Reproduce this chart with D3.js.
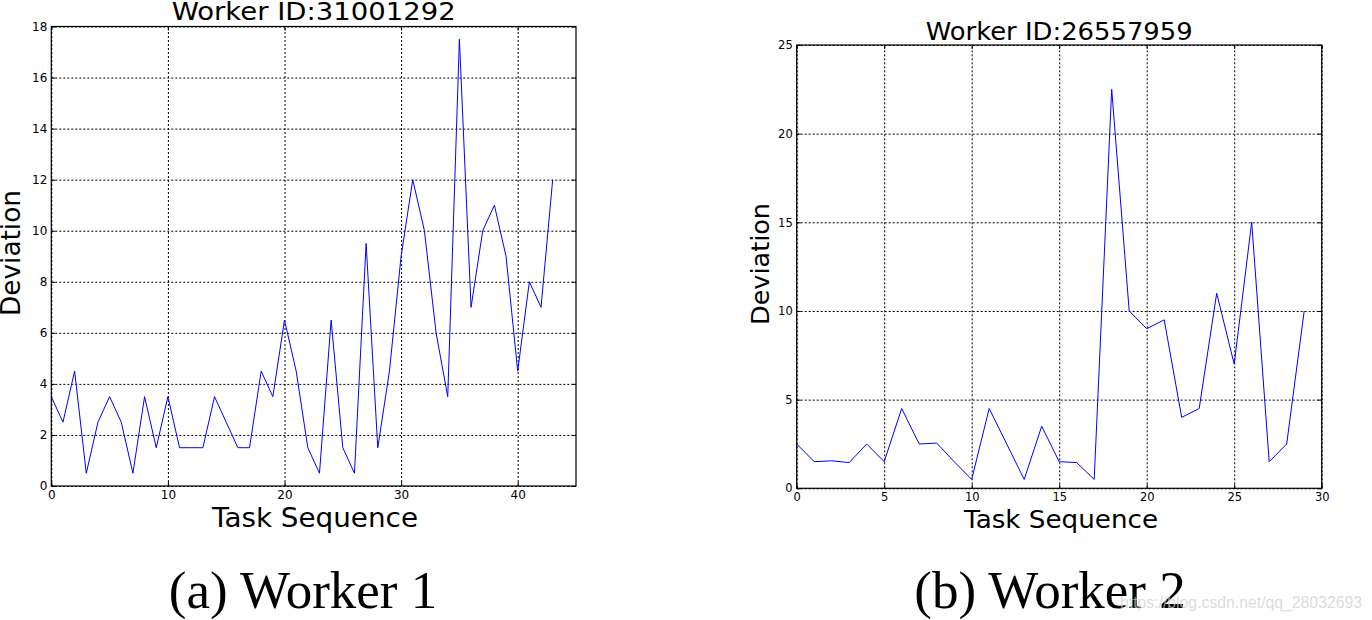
<!DOCTYPE html>
<html><head><meta charset="utf-8">
<script src="https://cdn.jsdelivr.net/npm/d3@7"></script>
<style>body{margin:0;background:#fff} svg{display:block}</style>
</head><body>
<svg id="c" width="1372" height="620"></svg>
<script>
// ---- data ----
const title1 = "Worker ID:31001292";
const deviation1 = [3.5,2.5,4.5,0.5,2.5,3.5,2.5,0.5,3.5,1.5,3.5,1.5,1.5,1.5,3.5,2.5,1.5,1.5,4.5,3.5,6.5,4.5,1.5,0.5,6.5,1.5,0.5,9.5,1.5,4.5,9,12,10,6,3.5,17.5,7,10,11,9,4.5,8,7,12];
const xTicks1 = [0,10,20,30,40];
const yTicks1 = [0,2,4,6,8,10,12,14,16,18];

const title2 = "Worker ID:26557959";
const deviation2 = [2.5,1.5,1.55,1.45,2.5,1.5,4.5,2.5,2.55,1.5,0.5,4.5,2.5,0.5,3.5,1.5,1.45,0.5,22.5,10,9,9.5,4,4.5,11,7,15,1.5,2.5,10];
const xTicks2 = [0,5,10,15,20,25,30];
const yTicks2 = [0,5,10,15,20,25];

const xLabel = "Task Sequence";
const yLabel = "Deviation";
const captions = ["(a) Worker 1", "(b) Worker 2"];
const watermark = "https://blog.csdn.net/qq_28032693";

const svg = d3.select("#c");
const sans = "DejaVu Sans, sans-serif";

function drawChart(o) {
  const x = d3.scaleLinear().domain(o.xDomain).range([o.left, o.right]);
  const y = d3.scaleLinear().domain(o.yDomain).range([o.bottom, o.top]);
  const g = svg.append("g");
  const w = o.right - o.left, h = o.bottom - o.top;

  // grid
  g.append("g").attr("transform", `translate(0,${o.bottom})`)
    .call(d3.axisBottom(x).tickValues(o.xTicks).tickSize(-h).tickFormat(""))
    .call(s => s.select(".domain").remove())
    .selectAll("line").attr("stroke", "#000").attr("stroke-width", 1).attr("stroke-dasharray", "2,2");
  g.append("g").attr("transform", `translate(${o.left},0)`)
    .call(d3.axisLeft(y).tickValues(o.yTicks).tickSize(-w).tickFormat(""))
    .call(s => s.select(".domain").remove())
    .selectAll("line").attr("stroke", "#000").attr("stroke-width", 1).attr("stroke-dasharray", "2,2");

  // data line
  const line = d3.line().x((d, i) => x(i)).y(d => y(d));
  g.append("path").datum(o.data).attr("d", line)
    .attr("fill", "none").attr("stroke", "#0000ff").attr("stroke-width", 1);

  // axes with inward ticks
  const styleAxis = s => {
    s.select(".domain").remove();
    s.selectAll("line").attr("stroke", "#000").attr("stroke-width", 1);
    s.selectAll("text").attr("font-family", sans).attr("font-size", o.tickFont).attr("fill", "#000");
  };
  g.append("g").attr("transform", `translate(0,${o.bottom})`)
    .call(d3.axisBottom(x).tickValues(o.xTicks).tickSizeInner(-4).tickSizeOuter(0).tickPadding(o.xPad))
    .call(styleAxis);
  g.append("g").attr("transform", `translate(${o.left},0)`)
    .call(d3.axisLeft(y).tickValues(o.yTicks).tickSizeInner(-4).tickSizeOuter(0).tickPadding(4))
    .call(styleAxis);
  g.append("g").attr("transform", `translate(0,${o.top})`)
    .call(d3.axisTop(x).tickValues(o.xTicks).tickSizeInner(-4).tickSizeOuter(0).tickFormat(""))
    .call(styleAxis);
  g.append("g").attr("transform", `translate(${o.right},0)`)
    .call(d3.axisRight(y).tickValues(o.yTicks).tickSizeInner(-4).tickSizeOuter(0).tickFormat(""))
    .call(styleAxis);

  // frame
  g.append("rect").attr("x", o.left).attr("y", o.top).attr("width", w).attr("height", h)
    .attr("fill", "none").attr("stroke", "#000").attr("stroke-width", 1.2);

  // title
  g.append("text").attr("x", (o.left + o.right) / 2).attr("y", o.titleY)
    .attr("text-anchor", "middle").attr("font-family", sans).attr("font-size", o.titleFont)
    .attr("textLength", o.titleLen).attr("lengthAdjust", "spacingAndGlyphs")
    .attr("fill", "#000").text(o.title);

  // x label
  g.append("text").attr("x", o.xLabelX).attr("y", o.xLabelY)
    .attr("text-anchor", "middle").attr("font-family", sans).attr("font-size", o.labelFont)
    .attr("textLength", o.xLabelLen).attr("lengthAdjust", "spacingAndGlyphs")
    .attr("fill", "#000").text(xLabel);

  // y label
  g.append("text").attr("transform", `translate(${o.yLabelX},${o.yLabelY}) rotate(-90)`)
    .attr("text-anchor", "middle").attr("font-family", sans).attr("font-size", o.labelFont)
    .attr("textLength", o.yLabelLen).attr("lengthAdjust", "spacingAndGlyphs")
    .attr("fill", "#000").text(yLabel);

  // caption
  svg.append("text").attr("x", o.capX).attr("y", 608)
    .attr("text-anchor", "middle").attr("font-family", "Liberation Serif, Times New Roman, serif")
    .attr("font-size", 53).attr("fill", "#000").text(o.caption);
}

drawChart({
  data: deviation1, xDomain: [0, 45], yDomain: [0, 18], xTicks: xTicks1, yTicks: yTicks1,
  left: 51.3, right: 576, top: 26.5, bottom: 486,
  tickFont: 12, xPad: 4,
  title: title1, titleY: 20, titleFont: 25, titleLen: 284,
  labelFont: 26, xLabelX: 315, xLabelY: 527, xLabelLen: 206,
  yLabelX: 20, yLabelY: 253, yLabelLen: 126,
  caption: captions[0], capX: 303
});

drawChart({
  data: deviation2, xDomain: [0, 30], yDomain: [0, 25], xTicks: xTicks2, yTicks: yTicks2,
  left: 796.7, right: 1321.7, top: 45, bottom: 488.3,
  tickFont: 11.5, xPad: 5,
  title: title2, titleY: 40, titleFont: 25, titleLen: 267,
  labelFont: 25, xLabelX: 1061, xLabelY: 528, xLabelLen: 194,
  yLabelX: 769, yLabelY: 264, yLabelLen: 122,
  caption: captions[1], capX: 1050
});

// watermark
svg.append("text").attr("x", 1120).attr("y", 608)
  .attr("font-family", "Liberation Sans, Arial, sans-serif").attr("font-size", 17)
  .attr("textLength", 242).attr("lengthAdjust", "spacingAndGlyphs")
  .attr("fill", "#cfcfcf").attr("fill-opacity", 0.75).text(watermark);
</script>
</body></html>
